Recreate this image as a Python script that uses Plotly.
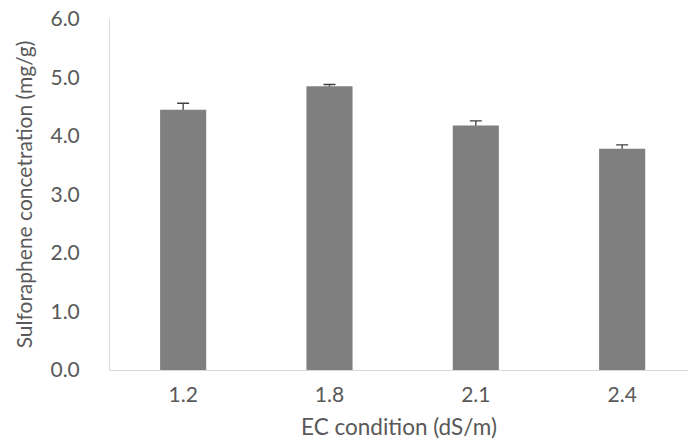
import plotly.graph_objects as go

# EC treatments and mean sulforaphene content with standard error
ec_levels = ["1.2", "1.8", "2.1", "2.4"]
sulforaphene = [4.45, 4.85, 4.18, 3.78]
std_error = [0.11, 0.03, 0.08, 0.07]
y_ticks = [0.0, 1.0, 2.0, 3.0, 4.0, 5.0, 6.0]

font_family = "Lato"
label_color = "#595959"
font_size = 21

fig = go.Figure()

# error bars sit on the base axes; the bars are drawn on an overlaid pair of
# axes so they cover the lower half and only the upward whisker shows
fig.add_trace(
    go.Scatter(
        x=ec_levels,
        y=sulforaphene,
        mode="markers",
        marker=dict(size=1, opacity=0),
        error_y=dict(type="data", array=std_error, visible=True,
                     color="#404040", thickness=1.3, width=6),
        hoverinfo="skip",
        xaxis="x",
        yaxis="y",
    )
)
fig.add_trace(
    go.Bar(
        x=ec_levels,
        y=sulforaphene,
        width=0.315,
        marker=dict(color="#7f7f7f", line=dict(width=0)),
        xaxis="x2",
        yaxis="y2",
    )
)

fig.update_layout(
    width=688,
    height=444,
    margin=dict(l=110, r=0, t=19, b=74),
    paper_bgcolor="white",
    plot_bgcolor="white",
    showlegend=False,
    font=dict(family=font_family, size=font_size, color=label_color),
    xaxis=dict(
        type="category",
        categoryarray=ec_levels,
        range=[-0.5, 3.45],
        showgrid=False,
        showline=True,
        linecolor="#d9d9d9",
        linewidth=1,
        ticks="",
        ticklabelstandoff=6,
        tickfont=dict(size=font_size, color=label_color),
        title=dict(text="EC condition (dS/m)", standoff=14,
                   font=dict(size=22.5, color=label_color)),
    ),
    yaxis=dict(
        range=[0, 6],
        tickvals=y_ticks,
        ticktext=[f"{v:.1f}" for v in y_ticks],
        showgrid=False,
        zeroline=False,
        showline=True,
        linecolor="#d9d9d9",
        linewidth=1,
        ticks="",
        ticklabelstandoff=25,
        tickfont=dict(size=font_size, color=label_color),
        title=dict(text="Sulforaphene concetration (mg/g)", standoff=12,
                   font=dict(size=font_size, color=label_color)),
    ),
    xaxis2=dict(
        type="category",
        categoryarray=ec_levels,
        overlaying="x",
        matches="x",
        visible=False,
    ),
    yaxis2=dict(
        overlaying="y",
        matches="y",
        visible=False,
    ),
)

fig.write_html("out.html")
